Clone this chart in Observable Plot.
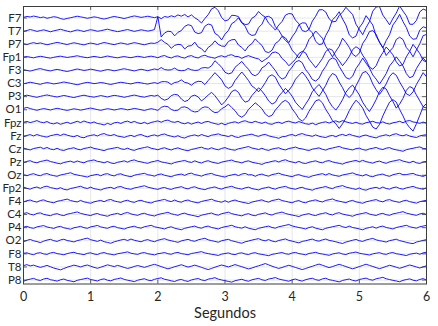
<!DOCTYPE html>
<html><head><meta charset="utf-8">
<script src="https://cdn.jsdelivr.net/npm/d3@7"></script>
<script src="https://cdn.jsdelivr.net/npm/@observablehq/plot@0.6"></script>
<style>body{margin:0;background:#fff} svg{display:block}</style>
</head><body><div id="chart"></div>
<script>
const channels = ["F7","T7","P7","Fp1","F3","C3","P3","O1","Fpz","Fz","Cz","Pz","Oz","Fp2","F4","C4","P4","O2","F8","T8","P8"];
const xTicks = [0,1,2,3,4,5,6];
const sampleStep = 0.05;   // seconds per sample
const uvPerRow = 100;      // µV per row spacing

// signals in µV, one sample every 0.05 s (10 samples = 0.5 s per group)
const F7 = [5,12,8,15,10,3,8,-2,4,10, 6,-4,-10,-3,2,8,14,9,4,-2, 3,9,5,-3,-8,-2,6,12,7,2, -4,3,10,16,11,5,9,14,8,3,
 10,-5,12,6,17,9,24,14,27,8, 24,2,-14,-38,-4,26,70,82,56,4, -22,-14,21,19,11,-34,-50,-46,-2,14, 50,24,6,-40,-64,-92,-54,-26,22,34,
 31,-16,-44,-96,-104,-88,-24,14,62,64, 46,-6,-29,-26,21,44,82,54,27,-47, -88,-127,-73,-28,52,84,88,22,-13,-52, -3,38,92,53,17,-47,-48,-18,47,68, 58];
const T7 = [-3,5,12,6,-2,4,10,3,-5,2, 8,14,7,0,-6,2,9,4,-3,5, 11,6,-1,3,9,15,8,2,-4,1, 7,12,5,-2,4,10,6,0,5,12,
 110,-45,-14,-1,-4,-36,-9,4,36,49, 42,-7,-19,-12,37,54,47,-17,-33,-67, -23,4,57,73,102,63,37,-17,-33,-28, 27,53,108,113,97,33,7,-37,-52,-88,
 -43,-8,47,63,62,13,-13,-78,-102,-98, -33,13,87,112,148,93,47,-28,-52,-38, 27,62,118,83,47,-38,-82,-128,-72,-28, 47,82,128,73,27,-38,-62,-58,8,33, 24];
const P7 = [4,-3,6,12,5,10,3,-4,2,8, 14,9,3,-2,5,11,6,0,-5,3, 9,4,-2,6,13,8,2,-3,4,10, 5,-1,6,12,7,1,-4,3,9,6,
 15,35,14,-1,-31,-9,-1,-4,-36,-14, -11,16,-21,-34,-61,-24,-6,26,-1,-14, -16,21,34,36,-6,-24,-51,-14,4,41, 14,-9,-56,-64,-46,6,24,61,29,6,
 -46,-74,-106,-64,-26,36,64,101,74,46, -16,-54,-96,-54,-16,46,14,-24,-76,-94, -66,6,44,96,104,76,14,-24,-86,-54, -26,36,54,36,-26,-54,-96,-44,4,66, 74];
const Fp1 = [2,6,1,-4,3,8,4,-2,-6,0, 5,9,4,-1,3,7,12,6,1,-3, 2,7,3,-2,4,10,5,0,-4,2, 6,1,-3,3,8,4,-1,5,9,4,
 -3,8,14,2,-5,7,11,0,-6,8, 13,1,-5,9,16,5,-1,-7,6,12, 2,15,20,7,6,-8,5,13,3,-6, -12,-34,-16,1,34,41,29,-9,-31,-64,
 -41,-14,29,46,34,-14,-46,-79,-46,-9, 44,66,54,6,-26,-64,-31,6,59,81, 64,16,-21,-74,-91,-64,-6,36,79,51, 19,-34,-66,-54,4,46,99,66,29,-24, -36];
const F3 = [6,0,-5,2,9,14,7,1,-4,3, 8,3,-3,-8,-2,5,11,6,0,4, 10,5,-1,-6,1,7,3,-3,2,8, 13,7,2,-4,3,9,4,-2,5,11,
 6,22,7,3,5,18,2,-2,0,15, 5,0,2,18,22,18,36,74,51,24, -14,-26,-19,24,46,69,36,9,-29,-41, -24,19,36,64,31,-1,-44,-66,-54,-6,
 26,64,76,59,6,-26,-69,-81,-59,-6, 31,79,96,84,31,-11,-54,-66,-44,14, 51,94,56,19,-34,-66,-104,-66,-24,34, 66,104,71,34,-24,-56,-44,14,56,94, 66];
const C3 = [-2,4,10,5,-1,-6,2,7,3,-3, 1,6,12,7,2,-4,-9,-3,4,9, 5,-1,3,8,4,-2,-7,-1,5,10, 6,1,-3,4,9,5,0,-4,2,7,
 0,13,15,11,-8,8,12,28,9,3, -13,8,17,15,-8,23,52,83,57,28, -18,-37,-23,23,57,88,57,23,-18,-37, -63,-32,7,53,67,48,-3,-42,-78,-52,
 -18,33,62,88,57,18,-33,-67,-98,-57, -13,43,77,63,12,-32,-83,-107,-78,-17, 32,83,92,58,-3,-47,-83,-47,-3,53, 82,63,12,-32,-78,-92,-63,-7,37,83, 52];
const P3 = [5,11,6,0,-5,2,8,13,7,2, -3,3,9,4,-2,-7,0,6,11,5, 0,-4,2,8,3,-3,4,10,6,1, -5,1,7,12,6,0,-4,3,9,4,
 11,-13,-27,-18,8,17,13,-18,-37,-28, 3,12,-2,-33,-12,12,33,7,-27,-63, -37,-3,38,52,33,-13,-42,-33,8,37, 68,42,8,-33,-57,-43,3,32,63,37,
 3,-43,-72,-98,-57,-18,38,67,93,57, 18,-38,-77,-103,-67,-23,33,67,88,52, 13,-43,-82,-113,-72,-23,38,72,58,7, -37,-88,-57,-13,48,77,63,12,-32,-78, -87];
const O1 = [10,18,9,2,-4,3,9,4,-2,5, 11,6,0,-5,1,7,3,-3,2,8, 13,7,1,-4,2,8,4,-2,3,9, 5,-1,4,10,6,0,-5,2,8,3,
 -5,18,27,23,2,-7,-3,18,22,13, -8,-17,-13,13,22,18,-8,-22,-18,8, 22,43,17,-7,-43,-57,-38,3,27,53, 32,8,-33,-52,-43,-2,27,58,72,53,
 7,-27,-68,-87,-63,-12,27,68,77,53, 2,-37,-83,-107,-143,-107,-63,-7,37,73, 47,13,-43,-87,-133,-147,-113,-47,7,58, 77,58,2,-47,-103,-137,-163,-107,-43,23, 47];
const Fpz = [4,11,2,9,17,6,1,10,-3,-8, 1,-11,-3,5,-6,3,12,2,14,5, -2,7,-5,-9,-16,-4,-13,0,4,-5, 8,13,2,11,0,-6,4,-8,3,9,
 15,5,16,21,9,4,12,-1,-7,2, -10,-1,6,-5,7,11,1,-6,-12,-3, -15,-4,3,8,-2,10,16,6,2,12, 3,-4,6,-7,-11,0,5,-5,8,13,
 4,-1,10,1,-7,-11,-2,-14,-4,3, 8,-2,9,15,5,17,8,1,-5,5, -6,-10,1,6,12,2,-2,8,-4,-9, 0,5,12,1,13,18,7,3,-4,6, -3];
const Fz = [-6,4,10,0,11,2,-4,-9,2,7, 13,3,15,6,-1,-6,4,-9,-14,-2, 4,9,0,12,18,7,3,11,-1,-5, -11,-2,5,-5,6,11,0,-7,3,8,
 -1,10,15,4,-2,-8,2,-11,-16,-4, 3,8,-1,11,2,-5,6,10,16,6, 2,-5,5,-7,-12,-1,4,9,14,3, -3,7,12,1,-6,-11,-18,-6,-4,6,
 11,1,12,18,8,3,-3,8,-2,-8, -12,-1,4,-6,6,12,2,14,4,-2, -9,2,7,-3,-9,-15,-3,3,9,0, 11,17,6,1,10,-1,-7,-12,0,6, 9];
const Cz = [8,-1,-7,4,9,14,3,12,0,-5, 6,-6,-11,-1,5,10,-1,-6,4,9, 15,5,0,-6,-12,-2,3,8,13,2, -3,7,-5,-10,0,6,12,17,6,1,
 -6,4,10,0,-7,3,9,-1,-8,-13, -3,2,9,14,4,-1,10,0,-6,5, 11,1,-5,-9,2,7,13,19,8,3, -4,6,-5,-10,0,5,10,-1,-7,4,
 9,15,5,1,-6,-11,-1,4,9,-2, -8,3,8,14,20,9,4,-2,-7,3, 7,-4,-9,1,6,12,2,-4,7,11, 0,-6,-11,-17,-5,1,6,12,16,5, 1];
const Pz = [-4,6,11,0,-5,5,10,16,5,-1, -8,-13,-3,3,8,-2,9,1,-5,7, 12,17,6,2,-5,5,-6,-11,-1,4, 10,0,12,17,7,2,-4,-9,1,6,
 13,2,-3,-8,-14,-3,3,8,13,3, -2,10,0,-7,5,11,1,-5,-10,0, 6,11,16,5,1,-6,5,10,0,-6, -11,-17,-6,-1,6,11,1,12,18,7,
 1,-5,6,-6,-11,-1,5,10,0,-5, 7,12,2,-4,-9,-15,-4,2,8,13, 3,14,4,-2,-8,3,8,-2,-9,2, 8,13,19,8,2,-4,7,-5,-10,1, 6];
const Oz = [5,-4,6,12,2,-4,8,13,3,-3, -8,2,7,13,19,8,2,-3,-8,-14, -3,2,7,-4,8,12,1,-5,7,11, 0,-6,-11,0,6,10,15,4,0,-7,
 5,10,0,-6,-11,-1,5,9,-1,11, 16,5,0,-7,4,10,14,3,-3,-9, -14,-3,2,8,-3,9,14,3,4,-8, 4,9,-1,-7,5,10,16,6,0,-6,
 -11,0,5,-5,-10,-16,-5,1,7,12, 2,13,3,-3,-8,2,7,12,18,7, 1,-5,6,-6,-11,-1,5,9,-2,-8, 4,10,15,4,5,10,14,3,-3,-9, 2];
const Fp2 = [10,0,-6,5,10,0,11,17,6,1, -5,5,-7,-12,-1,4,10,16,5,-1, 9,-2,-7,-13,-2,4,8,-2,10,14, 3,-3,-7,3,8,14,20,9,3,-3,
 -8,2,7,-3,-8,2,7,13,2,-4, 7,12,1,-5,-10,0,6,11,0,-6, 5,10,16,5,-1,-6,4,9,-1,-7, -12,-1,4,10,0,-6,5,10,15,4,
 -2,-7,3,8,-3,-8,-14,-3,3,8, 14,4,-2,10,15,21,10,4,-2,-8, 3,-9,-14,-3,3,8,-2,10,-1,-6, 5,10,-1,-6,4,9,15,5,-1,-7, 4];
const F4 = [-5,6,11,1,-5,7,12,1,-5,-10, 1,6,12,18,7,1,-4,8,-3,-8, -14,-3,3,8,-2,10,15,4,-2,-7, 4,9,-2,-7,4,9,-1,-7,-12,-1,
 5,10,16,5,-1,11,0,-6,6,11, 0,-6,-11,0,6,11,17,6,0,-6, 6,-6,5,11,1,-5,-10,-16,-5,1, 7,12,1,-5,7,12,18,7,1,-5,
 -10,1,7,-5,-10,1,7,12,2,-4, 8,13,19,8,2,-4,-9,2,8,-3, -8,-14,-3,3,9,14,3,-3,9,14, 4,-2,-7,4,9,-2,-7,-13,-2,4, 9];
const C4 = [8,14,3,-3,9,13,2,-4,-9,2, 7,-3,-8,3,8,14,20,9,3,-3, -8,3,8,-2,-7,-13,-2,4,9,-1, 10,16,5,-1,-6,5,10,0,-6,-11,
 0,6,11,17,6,0,-6,6,11,1, -5,-10,-16,-5,1,7,12,1,-5,7, 12,18,7,1,-5,-10,1,7,-4,-9, 2,7,13,2,-4,8,13,19,8,2,
 -4,-9,-15,-4,2,7,-3,-8,3,8, 14,3,-3,9,14,4,-2,-7,-13,-2, 4,9,15,4,-2,-7,4,9,-1,-6, 5,10,16,22,11,5,-1,-6,5,10, 0];
const P4 = [4,10,0,-5,6,11,16,5,0,-6, 5,10,-1,-6,-12,-1,4,10,0,-5, 6,11,17,6,0,-5,6,11,0,-5, -11,0,6,11,1,-4,7,12,18,7,
 1,-4,-10,1,7,-4,-10,-16,-5,1, 7,12,1,-4,7,12,1,-4,-10,1, 7,12,18,7,1,-4,7,-4,-10,-16, -5,1,7,12,1,-4,7,12,18,24,
 13,7,1,-4,-10,1,7,-4,-10,-16, -5,1,7,12,18,7,1,12,1,-4, -10,-16,-5,1,7,-4,7,12,1,-4, -10,1,7,12,18,7,1,-4,7,12, 18];
const O2 = [-7,3,10,0,-6,-14,-3,5,11,1, -5,6,12,2,-3,-9,1,7,14,20, 8,2,-5,5,-7,-13,-19,-8,-1,6, 11,2,13,4,-2,-8,3,9,-1,-7,
 4,10,16,6,0,-6,-12,-1,5,11, 1,-4,7,13,19,7,1,-5,-11,0, 6,11,0,-6,-13,-19,-8,-2,5,11, 16,5,0,9,-2,-8,2,8,14,3,
 -3,-10,-16,-5,0,7,13,2,-3,7, 13,3,-2,-8,-15,-21,-10,-3,4,10, 0,-5,6,12,18,7,1,-4,-10,1, 6,12,1,-5,-12,-18,-22,-10,-4,3, 9];
const F8 = [4,8,-1,-6,5,9,0,-4,7,11, 2,-2,-7,2,8,12,3,-1,-6,4, 8,-1,-5,5,10,1,-3,-8,1,5, 10,15,5,0,-4,6,10,1,-3,-8,
 1,5,10,1,-3,7,11,2,-2,-7, 3,7,12,17,7,2,-3,-7,-12,-2, 3,7,-2,-6,4,8,-1,-5,5,9, 0,-4,-9,-14,-4,1,6,10,1,-3,
 7,11,2,-2,-7,3,7,12,3,-1, -6,-11,-1,4,8,-1,-5,5,9,14, 5,0,-4,-9,0,5,9,0,-4,6, 10,1,-3,-8,-13,-3,2,6,-3,8, 12];
const T8 = [10,18,8,14,5,-3,4,12,2,-8, -15,-22,-12,-2,6,14,8,0,9,15, 6,-3,-10,-2,7,16,10,3,12,5, -4,-11,-5,4,11,4,-3,5,13,20,
 12,3,-6,-14,-7,2,9,17,8,-1, 6,14,6,-3,-12,-20,-11,-2,7,15, 8,0,9,18,10,2,-7,-15,-8,1, 9,17,26,16,6,-3,-11,-4,5,13,
 5,-4,-12,-20,-12,-3,5,14,22,13, 4,-5,3,12,20,12,3,-6,-14,-6, 3,12,21,12,4,-5,-13,-5,4,13, 6,-2,-10,-2,7,15,8,0,-8,1, 9];
const P8 = [-10,1,7,13,2,-3,8,14,3,-2, -8,2,8,-2,-7,-13,-2,4,9,15, 4,-1,-7,4,9,-1,-6,5,10,16, 5,-1,-6,-12,-1,5,10,0,-5,6,
 12,17,6,1,-6,-11,0,5,-5,-10, 1,7,12,1,-4,7,12,18,7,1, -5,-10,-16,-5,1,6,-3,-9,2,8, 13,2,-3,8,13,19,8,2,-3,-9,
 2,8,-2,-8,3,9,14,3,-2,9, 14,3,-2,-8,-14,-3,3,8,-2,-7, 4,10,15,4,-1,10,15,21,10,4, -2,-7,-13,-2,4,9,-1,-6,5,11, 0];

const signals = [F7,T7,P7,Fp1,F3,C3,P3,O1,Fpz,Fz,Cz,Pz,Oz,Fp2,F4,C4,P4,O2,F8,T8,P8];
const n = channels.length;
const bases = channels.map((c, k) => n - 1 - k);

const rows = [];
signals.forEach((s, k) => {
  s.forEach((v, i) => rows.push({ch: channels[k], t: i * sampleStep, y: bases[k] + v / uvPerRow}));
});

const yMin = -0.3, yMax = 20.88;
const axisColor = "#3c3c3c";
const chart = Plot.plot({
  width: 438, height: 326,
  marginLeft: 23, marginRight: 12, marginTop: 6, marginBottom: 42.5,
  style: {fontFamily: "Lato, 'Open Sans', sans-serif", background: "#fff", color: "#262626"},
  x: {domain: [0, 6]},
  y: {domain: [yMin, yMax]},
  marks: [
    Plot.ruleX(xTicks, {stroke: "#000", strokeOpacity: 0.1}),
    Plot.ruleY(bases, {stroke: "#000", strokeOpacity: 0.1}),
    Plot.line(rows, {x: "t", y: "y", z: "ch", stroke: "#0000ff", strokeWidth: 0.9, clip: true}),
    Plot.ruleY(bases, {x1: 6 - 0.06, x2: 6, stroke: axisColor, strokeWidth: 0.8}),
    Plot.ruleY(bases, {x1: 0, x2: 0.06, stroke: axisColor, strokeWidth: 0.8}),
    Plot.ruleX(xTicks, {y1: yMax - 0.3, y2: yMax, stroke: axisColor, strokeWidth: 0.8}),
    Plot.ruleX(xTicks, {y1: yMin, y2: yMin + 0.3, stroke: axisColor, strokeWidth: 0.8}),
    Plot.frame({stroke: axisColor, strokeWidth: 1}),
    Plot.axisY(bases, {tickSize: 0, tickPadding: 2, fontSize: 11.5, tickFormat: d => channels[n - 1 - d], label: null}),
    Plot.axisX(xTicks, {tickSize: 0, tickPadding: 8, fontSize: 12.5, label: null}),
    Plot.text(["Segundos"], {frameAnchor: "bottom", lineAnchor: "middle", dy: 29, fontSize: 14.5, fill: "#262626"})
  ]
});
document.getElementById("chart").appendChild(chart);
</script>
</body></html>
